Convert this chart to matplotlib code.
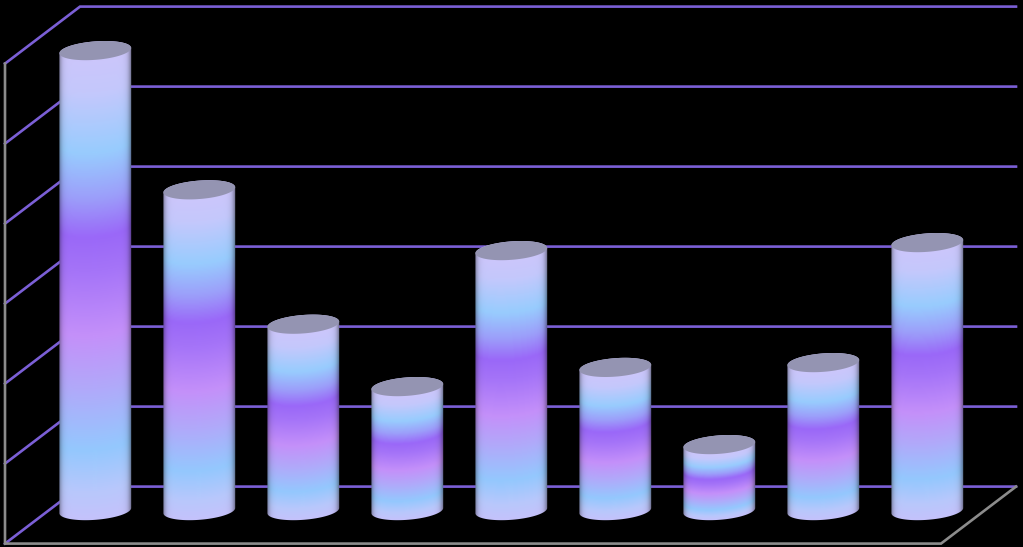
"""Nine glossy cylinders in a fake 3D box on black, no labels."""
import numpy as np
import matplotlib; matplotlib.use("Agg")
import matplotlib.pyplot as plt
from matplotlib.path import Path
from matplotlib.patches import PathPatch
from matplotlib.colors import LinearSegmentedColormap

categories = list(range(9))
values = [5.75, 4.01, 2.33, 1.55, 3.25, 1.79, 0.825, 1.85, 3.35]
y_ticks = [0, 1, 2, 3, 4, 5, 6]

W, H = 1023, 547
X0, DX = 95.3, 104.0   # px of first category, px per category
Y0, DY = 510.6, 80.0   # px of value 0, px per unit

stops = [(0.00, "#cbc6fb"), (0.07, "#c4c8fc"), (0.20, "#98ccfe"), (0.30, "#9c9efa"),
         (0.385, "#9a68f8"), (0.46, "#a574f8"), (0.60, "#c490fa"), (0.72, "#b0aafa"),
         (0.85, "#94c8fe"), (0.94, "#b8c8fc"), (1.00, "#c4c2fb")]
cyl = LinearSegmentedColormap.from_list("cyl", stops)

fig = plt.figure(figsize=(W / 100, H / 100), dpi=100, facecolor="black")
ax = fig.add_axes([0, 0, 1, 1], facecolor="black")
ax.axis("off")


def px_x(p):
    return (p - X0) / DX


def px_y(p):
    return (Y0 - p) / DY


PURPLE, GREY = "#7b5fd6", "#8c8c8c"
LEFT_F, LEFT_B, RIGHT_B = 5, 80, 1016

for v in y_ticks:
    yb = px_y(Y0 - DY * v - 24)
    yf = px_y(Y0 - DY * v + 33)
    ax.plot([px_x(LEFT_F), px_x(LEFT_B), px_x(RIGHT_B)], [yf, yb, yb],
            color=PURPLE, lw=1.9, solid_joinstyle="miter", zorder=1)

# floor and left edge
f0, f6 = px_y(Y0 + 33), px_y(Y0 - DY * 6 + 33)
ax.plot([px_x(LEFT_F), px_x(LEFT_F), px_x(941), px_x(RIGHT_B)],
        [f6, f0, f0, px_y(Y0 - 24)], color=GREY, lw=1.9, zorder=2,
        solid_joinstyle="miter")

A, B = 36.0, 9.2           # ellipse half axes in px
TILT = np.deg2rad(4.5)     # right side sits higher


def ell(t):
    """offset (dx, dy) in px, y up"""
    dx = A * np.cos(t) * np.cos(TILT) - B * np.sin(t) * np.sin(TILT)
    dy = A * np.cos(t) * np.sin(TILT) + B * np.sin(t) * np.cos(TILT)
    return dx, dy


for c, val in zip(categories, values):
    cx = X0 + DX * c
    ytop = Y0 - DY * val
    t_r = np.arctan2(-B * np.sin(TILT), A * np.cos(TILT))
    top_t = np.linspace(t_r, t_r + np.pi, 60)
    bot_t = np.linspace(t_r + np.pi, t_r + 2 * np.pi, 60)
    tx, ty = ell(top_t)
    bx, by = ell(bot_t)
    xs = np.r_[cx + tx, cx + bx]
    ys = np.r_[ytop - ty, Y0 - by]
    clip = PathPatch(Path(np.c_[px_x(xs), px_y(ys)]), fc="none", ec="none",
                     transform=ax.transData)
    ax.add_patch(clip)

    # body shading: bands bow downwards with the front of the cylinder
    y1, y2 = ytop - B - 2, Y0 + B + 2
    gx, gy = np.meshgrid(np.linspace(-A - 1, A + 1, 90),
                         np.linspace(y1, y2, max(int(y2 - y1), 2)))
    u = np.clip(gx / A, -1, 1)
    bow = B * np.sqrt(1 - u ** 2) - A * u * np.sin(TILT)
    frac = (gy - bow - ytop) / (Y0 - ytop)
    rgba = cyl(np.clip(frac, 0, 1))
    edge = 1 - 0.38 * np.abs(u) ** 14
    rgba[..., :3] *= edge[..., None]
    im = ax.imshow(rgba, extent=[px_x(cx - A - 1), px_x(cx + A + 1), px_y(y2), px_y(y1)],
                   aspect="auto", origin="upper", interpolation="bilinear", zorder=3)
    im.set_clip_path(clip)

    # grey lid
    lid_x, lid_y = ell(np.linspace(0, 2 * np.pi, 120))
    ax.fill(px_x(cx + lid_x), px_y(ytop - lid_y), color="#9494b2", lw=0, zorder=4)

ax.set_xlim(px_x(0), px_x(W))
ax.set_ylim(px_y(H), px_y(0))
fig.savefig("out.png", dpi=100, facecolor="black")
